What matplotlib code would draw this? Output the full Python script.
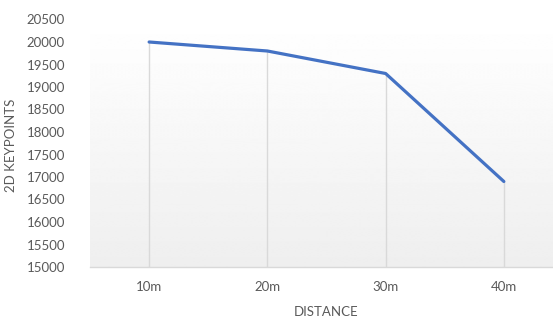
import matplotlib.pyplot as plt
import numpy as np
import matplotlib

matplotlib.rcParams['font.family'] = ['Lato', 'DejaVu Sans']

# Data
distances = ['10m', '20m', '30m', '40m']
keypoints = [20000, 19800, 19300, 16900]

text_color = '#595959'
grid_color = '#d9d9d9'
line_color = '#4472c4'

fig = plt.figure(figsize=(5.53, 3.2), dpi=100)
# axes spans past the right edge, like the original export
ax = fig.add_axes([90 / 553, 53 / 320, 473 / 553, 247.5 / 320])

x = np.arange(len(distances))

# soft vertical gradient behind the plot area
grad = np.linspace(1.0, 0.935, 256).reshape(-1, 1)
ax.imshow(grad, extent=[-0.5, 3.5, 15000, 20500], aspect='auto', cmap='gray',
          vmin=0, vmax=1, zorder=0, interpolation='bilinear')

# drop lines from the axis up to each point
ax.vlines(x, 15000, keypoints, color=grid_color, linewidth=1, zorder=1)
ax.plot(x, keypoints, color=line_color, linewidth=2.3, zorder=3,
        solid_capstyle='round')

ax.set_xlim(-0.5, 3.5)
ax.set_ylim(15000, 20500)
ax.set_yticks(np.arange(15000, 20501, 500))
ax.set_xticks(x)
ax.set_xticklabels(distances)

for side in ['top', 'right', 'left']:
    ax.spines[side].set_visible(False)
ax.spines['bottom'].set_color(grid_color)
ax.spines['bottom'].set_linewidth(1)
ax.spines['bottom'].set_zorder(2)

ax.tick_params(axis='both', length=0, labelsize=9.5, labelcolor=text_color)
ax.tick_params(axis='y', pad=18)
ax.tick_params(axis='x', pad=10)

fig.text(326 / 553, 1 - 312 / 320, 'DISTANCE', ha='center', va='center',
         fontsize=9.5, color=text_color)
fig.text(11 / 553, 1 - 145 / 320, '2D KEYPOINTS', ha='center', va='center',
         rotation=90, fontsize=9.5, color=text_color)

plt.savefig('out.png', dpi=100)
